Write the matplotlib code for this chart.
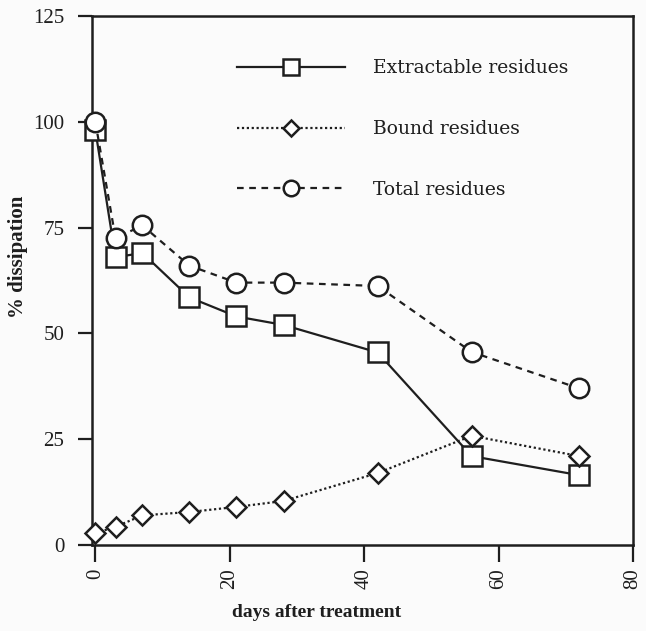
import matplotlib
matplotlib.use("Agg")
import matplotlib.pyplot as plt
from matplotlib.font_manager import FontProperties

plt.rcParams['font.family'] = 'Liberation Serif'

# Sampling days after treatment
days = [0, 3, 7, 14, 21, 28, 42, 56, 72]

# % of applied residue remaining
extractable = [98, 68, 69, 58.5, 54, 52, 45.5, 21, 16.5]
bound = [2.8, 4.3, 7, 7.8, 9, 10.4, 17, 25.8, 21]
total = [100, 72.5, 75.5, 66, 62, 62, 61.2, 45.6, 37]

series_labels = ["Extractable residues", "Bound residues", "Total residues"]
x_ticks = [0, 20, 40, 60, 80]
y_ticks = [0, 25, 50, 75, 100, 125]

ink = "#1e1e1e"
times = FontProperties(family="Liberation Serif", size=15)
times_bold = FontProperties(family="Liberation Serif", size=14, weight="bold")
times_bold_y = FontProperties(family="Liberation Serif", size=15, weight="bold")
legend_font = FontProperties(family="DejaVu Serif", size=13.5)

fig = plt.figure(figsize=(6.46, 6.31), dpi=100)
fig.patch.set_facecolor("#fbfbfb")
ax = fig.add_axes([92 / 646, (631 - 545) / 631, (633 - 92) / 646, (545 - 16) / 631])
ax.set_facecolor("#fbfbfb")

common = dict(color=ink, lw=1.6, mfc="white", mec=ink, mew=1.8, clip_on=False, zorder=3)
l1, = ax.plot(days, extractable, ls="-", marker="s", ms=15, **common)
l2, = ax.plot(days, bound, ls=(0, (1, 1.2)), marker="D", ms=10, **common)
l3, = ax.plot(days, total, ls=(0, (3, 2.5)), marker="o", ms=14, **common)

ax.set_xlim(-0.5, 80)
ax.set_ylim(0, 125)
ax.set_xticks(x_ticks)
ax.set_yticks(y_ticks)
ax.set_xticklabels([str(v) for v in x_ticks], rotation=90, fontproperties=times)
ax.set_yticklabels([str(v) for v in y_ticks], fontproperties=times)
ax.tick_params(axis="y", direction="out", length=10, width=1.6, color=ink, pad=10, labelcolor=ink)
ax.tick_params(axis="x", direction="out", length=12, width=1.6, color=ink, pad=5, labelcolor=ink)
for s in ax.spines.values():
    s.set_linewidth(1.8)
    s.set_color(ink)

ax.set_xlabel("days after treatment", fontproperties=times_bold, color=ink)
ax.set_ylabel("% dissipation", fontproperties=times_bold_y, color=ink)
ax.xaxis.set_label_coords(0.415, -0.112)
ax.yaxis.set_label_coords(-0.118, 0.545)

leg = ax.legend([l1, l2, l3], series_labels, loc="upper left", bbox_to_anchor=(0.268, 0.918),
                frameon=False, borderpad=0, borderaxespad=0,
                prop=legend_font, markerscale=0.8,
                handlelength=5.76, handletextpad=1.5, labelspacing=2.28)
for t in leg.get_texts():
    t.set_color(ink)

fig.savefig("out.png", dpi=100, facecolor=fig.get_facecolor())
